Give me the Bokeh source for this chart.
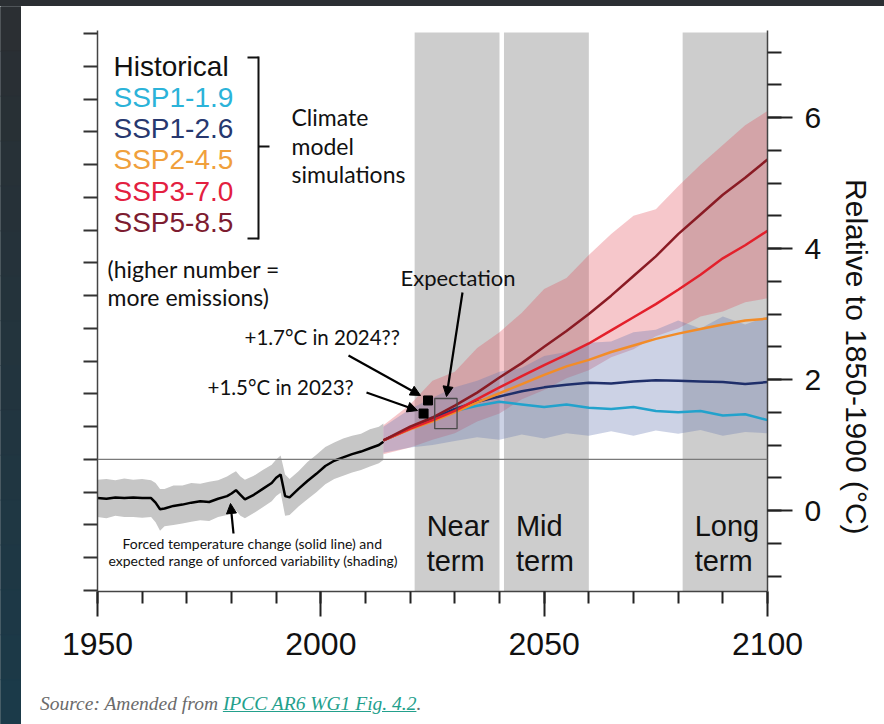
import numpy as np
from bokeh.plotting import figure
from bokeh.models import (Range1d, LinearAxis, FixedTicker, Span, Label, Arrow,
                          NormalHead, CustomJSTickFormatter, Div)
from bokeh.layouts import row, column
from bokeh.embed import file_html
from bokeh.resources import INLINE

# ---------------- data ----------------
hist_years = [1950, 1952, 1954, 1956, 1958, 1960, 1962, 1963, 1964, 1965,
              1967, 1969, 1971, 1973, 1975, 1977, 1979, 1980, 1981, 1982,
              1983, 1985, 1987, 1989, 1990, 1991, 1992, 1993, 1995, 1997,
              1999, 2001, 2003, 2005, 2007, 2009, 2011, 2013, 2014]
hist_temp = [0.19, 0.18, 0.20, 0.19, 0.20, 0.19, 0.19, 0.12, 0.02, 0.03,
             0.07, 0.09, 0.12, 0.14, 0.13, 0.18, 0.22, 0.26, 0.31, 0.24,
             0.17, 0.24, 0.33, 0.42, 0.50, 0.55, 0.22, 0.20, 0.33, 0.45,
             0.56, 0.68, 0.76, 0.81, 0.86, 0.90, 0.95, 1.00, 1.05]
hist_hi = [0.47, 0.48, 0.46, 0.49, 0.47, 0.48, 0.46, 0.42, 0.33, 0.33,
           0.38, 0.38, 0.42, 0.41, 0.44, 0.46, 0.52, 0.56, 0.60, 0.52,
           0.47, 0.53, 0.62, 0.70, 0.78, 0.84, 0.55, 0.48, 0.60, 0.74,
           0.85, 0.97, 1.04, 1.10, 1.14, 1.17, 1.24, 1.28, 1.33]
hist_lo = [-0.10, -0.12, -0.08, -0.10, -0.10, -0.11, -0.10, -0.18, -0.31, -0.24,
           -0.22, -0.20, -0.17, -0.15, -0.16, -0.10, -0.07, 0.02, 0.00, -0.08,
           -0.12, -0.04, 0.05, 0.14, 0.22, 0.27, -0.08, -0.07, 0.06, 0.17,
           0.28, 0.40, 0.48, 0.53, 0.58, 0.62, 0.67, 0.72, 0.77]

ssp_years = [2014, 2020, 2025, 2030, 2035, 2040, 2045, 2050, 2055, 2060,
             2065, 2070, 2075, 2080, 2085, 2090, 2095, 2100]
ssp119 = [1.07, 1.25, 1.42, 1.52, 1.60, 1.66, 1.62, 1.58, 1.62, 1.57,
          1.55, 1.58, 1.52, 1.50, 1.52, 1.45, 1.47, 1.38]
ssp126 = [1.07, 1.25, 1.40, 1.55, 1.66, 1.74, 1.82, 1.88, 1.92, 1.95,
          1.94, 1.97, 1.99, 1.98, 1.97, 1.96, 1.93, 1.96]
ssp245 = [1.07, 1.24, 1.36, 1.50, 1.65, 1.79, 1.93, 2.07, 2.20, 2.30,
          2.42, 2.52, 2.62, 2.70, 2.77, 2.84, 2.90, 2.93]
ssp370 = [1.07, 1.25, 1.38, 1.52, 1.70, 1.88, 2.05, 2.22, 2.38, 2.55,
          2.75, 2.95, 3.15, 3.37, 3.60, 3.85, 4.05, 4.27]
ssp585 = [1.07, 1.28, 1.42, 1.60, 1.80, 2.03, 2.25, 2.50, 2.74, 3.00,
          3.28, 3.58, 3.88, 4.22, 4.52, 4.82, 5.08, 5.36]
red_hi = [1.30, 1.62, 1.98, 2.12, 2.48, 2.72, 3.02, 3.38, 3.55, 3.90,
          4.22, 4.50, 4.60, 4.95, 5.28, 5.58, 5.88, 6.10]
red_lo = [0.86, 0.96, 1.08, 1.18, 1.36, 1.48, 1.70, 1.84, 2.02, 2.14,
          2.34, 2.46, 2.66, 2.78, 2.96, 3.04, 3.18, 3.24]
blue_hi = [1.28, 1.55, 1.72, 1.88, 1.98, 2.12, 2.18, 2.36, 2.42, 2.56,
           2.58, 2.72, 2.76, 2.90, 2.78, 2.96, 2.84, 2.96]
blue_lo = [0.88, 0.96, 1.00, 1.06, 1.12, 1.08, 1.16, 1.10, 1.18, 1.14,
           1.21, 1.14, 1.22, 1.17, 1.23, 1.14, 1.20, 1.18]

scenario_names = ["SSP1-1.9", "SSP1-2.6", "SSP2-4.5", "SSP3-7.0", "SSP5-8.5"]
scenario_colors = ["#22a2cc", "#1f2f6a", "#f28c28", "#e3202b", "#8a1b24"]
legend_colors = ["#2bb3d9", "#27386f", "#f0a03c", "#e3203f", "#7d1c30"]

period_line1 = ["Near", "Mid", "Long"]
period_start = [2021, 2041, 2081]
period_end = [2040, 2060, 2100]

obs_years = [2023, 2024]
obs_temp = [1.48, 1.68]
expect_years = [2025.5, 2030.5]
expect_temp = [1.25, 1.71]

ref_offset = 0.78          # zero of the 1995-2014 baseline on the 1850-1900 scale
x_major = [1950, 2000, 2050, 2100]
right_major = [0, 2, 4, 6]

# ---------------- geometry helpers (page pixels -> data) ----------------
PX_X0, PX_X1 = 97.0, 767.0
PX_Y0, PX_PER_DEG = 510.0, 65.5


def dx(px):
    return 1950 + (px - PX_X0) * 150.0 / (PX_X1 - PX_X0)


def dy(py):
    return (PX_Y0 - py) / PX_PER_DEG


NARROW = "Liberation Sans"
SANS = "Lato"
INK = "#111111"

# main figure occupies page x 21..884, y 6..684
p = figure(width=863, height=678, x_range=Range1d(1950, 2100),
           y_range=Range1d(dy(591), dy(30)),
           output_backend="svg", toolbar_location=None,
           min_border_left=76, min_border_right=117, min_border_top=24,
           min_border_bottom=93, outline_line_color=None,
           background_fill_color="white", border_fill_color="white")
p.grid.visible = False

# bottom axis
xa = p.xaxis[0]
xa.ticker = FixedTicker(ticks=x_major, minor_ticks=list(range(1950, 2101, 10)))
xa.major_tick_out = 25
xa.major_tick_in = 0
xa.minor_tick_out = 12
xa.minor_tick_in = 0
xa.major_tick_line_width = 2
xa.minor_tick_line_width = 2
xa.major_tick_line_color = "#222222"
xa.minor_tick_line_color = "#222222"
xa.axis_line_color = "#444444"
xa.axis_line_width = 1.5
xa.major_label_text_font = NARROW
xa.major_label_text_font_size = "32px"
xa.major_label_text_color = INK
xa.major_label_standoff = 16

# left axis (1995-2014 baseline, unlabelled)
ya = p.yaxis[0]
ya.ticker = FixedTicker(ticks=[ref_offset + 0.5 * k for k in range(-4, 14)], minor_ticks=[])
ya.formatter = CustomJSTickFormatter(code="return ''")
ya.major_tick_out = 14
ya.major_tick_in = 0
ya.major_tick_line_width = 2
ya.major_tick_line_color = "#333333"
ya.axis_line_color = "#444444"
ya.axis_line_width = 1.5

# right axis
NB = "\u00a0"
ra = LinearAxis(ticker=FixedTicker(ticks=right_major,
                                   minor_ticks=list(np.arange(-1, 7.01, 0.5))),
                axis_label=NB * 11 + "Relative to 1850-1900 (°C)")
ra.major_tick_out = 25
ra.major_tick_in = 0
ra.minor_tick_out = 14
ra.minor_tick_in = 0
ra.major_tick_line_width = 2
ra.minor_tick_line_width = 2
ra.major_tick_line_color = "#222222"
ra.minor_tick_line_color = "#222222"
ra.axis_line_color = "#444444"
ra.axis_line_width = 1.5
ra.major_label_text_font = NARROW
ra.major_label_text_font_size = "30px"
ra.major_label_text_color = INK
ra.major_label_standoff = 12
ra.axis_label_text_font = NARROW
ra.axis_label_text_font_size = "30px"
ra.axis_label_text_font_style = "normal"
ra.axis_label_text_color = INK
ra.axis_label_standoff = 16
p.add_layout(ra, "right")

# period bands
p.quad(left=period_start, right=period_end, bottom=dy(591), top=dy(32),
       fill_color="#cdcdcd", line_color=None)

# historical shading + projections shading
p.varea(x=hist_years, y1=hist_lo, y2=hist_hi, fill_color="#c6c6c6")
p.varea(x=ssp_years, y1=red_lo, y2=red_hi, fill_color="#e24554", fill_alpha=0.30)
p.varea(x=ssp_years, y1=blue_lo, y2=blue_hi, fill_color="#6a7cb4", fill_alpha=0.34)

p.add_layout(Span(location=ref_offset, dimension="width", line_color="#7a7a7a",
                  line_width=1.3))

# lines
p.line(hist_years, hist_temp, line_color="black", line_width=2.5)
for vals, col in zip([ssp119, ssp126, ssp245, ssp370, ssp585], scenario_colors):
    p.line(ssp_years, vals, line_color=col, line_width=2.5)

# observations and expectation box
p.scatter(obs_years, obs_temp, marker="square", size=9, fill_color="black",
          line_color="black")
p.quad(left=[expect_years[0]], right=[expect_years[1]], bottom=[expect_temp[0]],
       top=[expect_temp[1]], fill_color=None, line_color="#4a4a4a", line_width=1.3)


def lab(text, px, py, size, font=SANS, color=INK, align="left"):
    """px = left edge, py = visual centre of the capitals (page pixels)."""
    p.add_layout(Label(x=dx(px), y=dy(py), text=text, text_font=font,
                       text_font_size=f"{size}px", text_color=color,
                       text_align=align, text_baseline="middle"))


def seg(x0, y0, x1, y1, width=2, color=INK, head=False):
    end = NormalHead(size=10, fill_color=color, line_color=color) if head else None
    p.add_layout(Arrow(end=end, x_start=dx(x0), y_start=dy(y0), x_end=dx(x1),
                       y_end=dy(y1), line_width=width, line_color=color))


# legend
lab("Historical", 113, 66, 28, NARROW, INK)
for i, (nm, col) in enumerate(zip(scenario_names, legend_colors)):
    lab(nm, 113, 97 + 31.2 * i, 28, NARROW, col)

# bracket
seg(247, 57, 258, 57)
seg(258, 56, 258, 239)
seg(258, 238, 247, 238)
seg(258, 146, 269, 146)

lab("Climate", 291, 116, 23)
lab("model", 291, 145, 23)
lab("simulations", 291, 173, 23)
lab("(higher number =", 107, 268, 23)
lab("more emissions)", 107, 296, 23)
lab("Expectation", 400, 277, 22)
lab("+1.7°C in 2024??", 244, 336, 20.5)
lab("+1.5°C in 2023?", 207, 386, 20.5)
lab("Forced temperature change (solid line) and", 122, 543, 14)
lab("expected range of unforced variability (shading)", 108, 560, 14)

# period labels
for nm, x0 in zip(period_line1, period_start):
    px = 12 + (PX_X0 + (x0 - 1950) * 670 / 150.0)
    lab(nm, px, 525, 29, NARROW)
    lab("term", px, 560, 29, NARROW)

# arrows
seg(348, 355, 420, 395, 2.2, "black", True)
seg(366, 392, 417, 410, 2.2, "black", True)
seg(462, 292, 446, 396, 2.2, "black", True)
seg(233, 533, 230, 503, 2.2, "black", True)

# ---------------- source line (page y 684..724) ----------------
src = Div(width=863, height=40, margin=0, text=(
    '<div style="padding:9px 0 0 19px; font-family:\'Liberation Serif\', serif; '
    'font-style:italic; font-size:19.5px; line-height:22px; color:#6b6b6b; '
    'white-space:nowrap">Source: Amended from '
    '<span style="color:#23a08c; text-decoration:underline">IPCC AR6 WG1 Fig. 4.2</span>.'
    '</div>'))

# ---------------- dark page surround ----------------
strip = figure(width=21, height=718, x_range=Range1d(0, 1), y_range=Range1d(0, 1),
               output_backend="svg", toolbar_location=None, x_axis_type=None,
               y_axis_type=None, min_border=0, outline_line_color=None,
               background_fill_color="#24343d", border_fill_color="#24343d")
strip.grid.visible = False
n = 16
edges = np.linspace(1, 0, n + 1)
cols = []
for t in np.linspace(0, 1, n):
    r = int(43 + (27 - 43) * t); g = int(47 + (58 - 47) * t); b = int(51 + (73 - 51) * t)
    cols.append(f"#{r:02x}{g:02x}{b:02x}")
strip.quad(left=0, right=1, top=list(edges[:-1]), bottom=list(edges[1:]),
           fill_color=cols, line_color=cols)

topbar = Div(width=884, height=6, margin=0, text="",
             styles={"background-color": "#2b2f33"})

layout = column(topbar, row(strip, column(p, src, spacing=0), spacing=0), spacing=0)
open("out.html", "w").write(file_html(layout, INLINE))
